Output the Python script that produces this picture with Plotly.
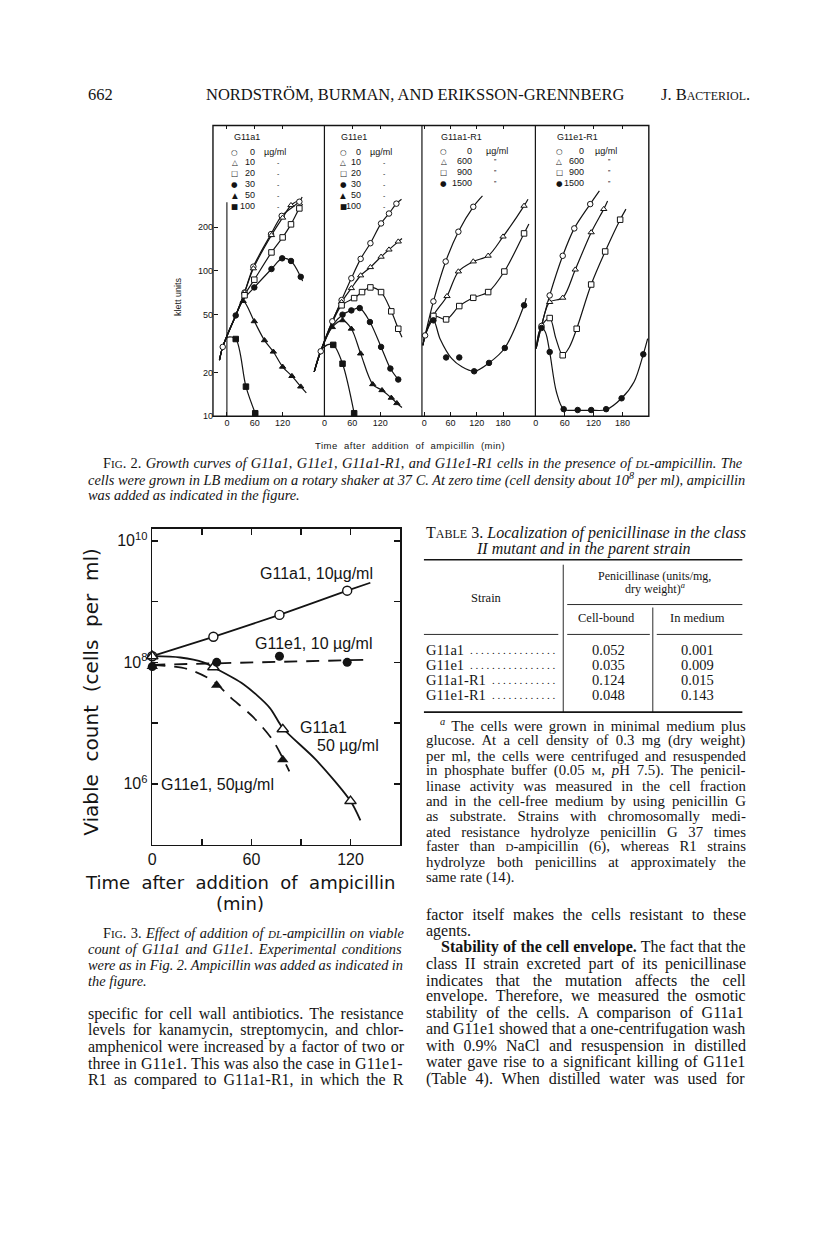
import re
import math
import plotly.graph_objects as go

# ============================ DATA ============================
# Fig. 2 -- Klett units vs. time after addition of ampicillin (min)
# Panel 1: G11a1 (µg/ml)
G11A1_DOSES = ["0", "10", "20", "30", "50", "100"]
G11A1_PT = [[-9, 38, 57, 95, 118, 156], [38, 57, 96, 120, 138], [38, 59, 96, 120, 138, 156],
            [19, 59, 96, 119, 138, 159], [35, 59, 81, 100, 120, 140, 159], [19, 41, 61]]
G11A1_PY = [[30, 71, 107, 179, 239, 299], [71, 104, 176, 232, 283], [68, 87, 134, 170, 209, 269],
            [49.4, 77, 103, 122, 117, 91], [62, 45, 33.3, 27.8, 21.9, 18.9, 16], [34, 16, 10.5]]
G11A1_CT = [[-16, -9, 19, 38, 57, 95, 118, 156, 162], [-16, -9, 19, 38, 57, 96, 120, 138, 158],
            [-16, -9, 19, 38, 59, 96, 120, 138, 156, 163], [-16, -9, 19, 35, 59, 96, 119, 138, 159, 163],
            [-16, -9, 19, 35, 59, 81, 100, 120, 140, 159, 171], [-16, -9, 2, 19, 41, 61]]
G11A1_CY = [[24.3, 30, 49.4, 71, 107, 179, 239, 299, 322], [24.3, 30, 49.4, 71, 104, 176, 232, 283, 310],
            [24.3, 30, 49.4, 68, 87, 134, 170, 209, 269, 288], [24.3, 30, 49.4, 63, 77, 103, 122, 117, 91, 85],
            [24.3, 30, 49.4, 62, 45, 33.3, 27.8, 21.9, 18.9, 16, 14.5], [24.3, 30, 35, 34, 16, 10.5]]

# Panel 2: G11e1 (µg/ml)
G11E1_DOSES = ["0", "10", "20", "30", "50", "100"]
G11E1_PT = [[-8, 17, 37, 58, 78, 99, 122, 139, 155], [37, 58, 78, 99, 122, 139, 159],
            [37, 64, 81, 99, 122, 144, 159], [39, 58, 76, 98, 122, 142, 159],
            [17, 39, 58, 78, 104, 124, 144, 156], [19, 39, 64]]
G11E1_PY = [[28, 45, 63, 89, 121, 155, 212, 248, 290], [61, 76, 93, 106, 125, 140, 159],
            [58, 65, 71.5, 77, 71.5, 52.7, 40], [50, 53.5, 55.5, 44.5, 30, 21.3, 17.9],
            [41, 45.7, 40, 27, 16.6, 15.1, 13.4, 12.3], [31, 23, 10.5]]
G11E1_CT = [[-22, -8, 17, 37, 58, 78, 99, 122, 139, 155, 166], [-22, -8, 17, 37, 58, 78, 99, 122, 139, 159, 167],
            [-22, -8, 17, 37, 64, 81, 99, 122, 144, 159, 167], [-22, -8, 17, 39, 58, 76, 98, 122, 142, 159],
            [-22, -8, 17, 39, 58, 78, 104, 124, 144, 156, 167], [-22, -8, 6, 19, 39, 64]]
G11E1_CY = [[20.2, 28, 45, 63, 89, 121, 155, 212, 248, 290, 311], [20.2, 28, 45, 61, 76, 93, 106, 125, 140, 159, 167],
            [20.2, 28, 44, 58, 65, 71.5, 77, 71.5, 52.7, 40, 35], [20.2, 28, 42, 50, 53.5, 55.5, 44.5, 30, 21.3, 17.9],
            [20.2, 28, 41, 45.7, 40, 27, 16.6, 15.1, 13.4, 12.3, 11.5], [20.2, 28, 31, 31, 23, 10.5]]

# Panel 3: G11a1-R1 (µg/ml)
G11A1R1_DOSES = ["0", "600", "900", "1500"]
G11A1R1_PT = [[2, 21, 49, 78, 112], [21, 52, 78, 112, 146, 180, 228],
              [21, 50, 80, 112, 146, 183, 228], [21, 50, 80, 114, 148, 184, 228]]
G11A1R1_PY = [[36, 61.7, 116, 186, 276], [49.4, 67, 99, 116, 127, 172, 280],
              [49, 46.4, 57.3, 65.3, 71.5, 99, 181], [45.7, 25.4, 25.4, 20.4, 23.3, 29.5, 58]]
G11A1R1_CT = [[-3, 2, 21, 49, 78, 112, 133], [-3, 2, 21, 52, 78, 112, 146, 180, 228, 237],
              [-3, 2, 21, 50, 80, 112, 146, 183, 228, 239], [-3, 2, 21, 36, 63, 86, 114, 148, 184, 228, 233]]
G11A1R1_CY = [[30.8, 36, 61.7, 116, 186, 276, 328], [30.8, 36, 49.4, 67, 99, 116, 127, 172, 280, 311],
              [30.8, 36, 49, 46.4, 57.3, 65.3, 71.5, 99, 181, 210], [30.8, 36, 45.7, 34.2, 24.9, 21.9, 20.4, 23.3, 29.5, 58, 65]]

# Panel 4: G11e1-R1 (µg/ml)
G11E1R1_DOSES = ["0", "600", "900", "1500"]
G11E1R1_PT = [[12, 29, 56, 80, 113], [29, 56, 82, 115, 141],
              [29, 56, 85, 115, 144, 175], [12, 29, 58, 87, 115, 146, 178, 223]]
G11E1R1_PY = [[41.8, 67.8, 127, 196, 288], [61, 65.3, 102, 184, 266],
              [47.4, 26.3, 40, 80.6, 136, 225], [40.5, 27.7, 11.2, 11.05, 11.05, 11.2, 13.3, 26.7]]
G11E1R1_CT = [[1, 12, 29, 56, 80, 113, 132], [1, 12, 29, 56, 82, 115, 141, 149],
              [1, 12, 29, 42, 56, 70, 85, 115, 144, 175, 187],
              [1, 7, 12, 20, 29, 43, 58, 87, 115, 146, 178, 204, 223, 232]]
G11E1R1_CY = [[29.3, 41.8, 67.8, 127, 196, 288, 355], [29.3, 41.8, 61, 65.3, 102, 184, 266, 303],
              [29.3, 41.8, 47.4, 34.2, 26.3, 30, 40, 80.6, 136, 225, 266],
              [29.3, 38, 40.5, 38, 27.7, 14.7, 11.2, 11.0, 11.0, 11.1, 13.3, 17.3, 26.7, 34.2]]

FIG2_YTICKS = [10, 20, 50, 100, 200]
FIG2_XTICKS_SHORT = [0, 60, 120]
FIG2_XTICKS_LONG = [0, 60, 120, 180]

# Fig. 3 -- viable count (cells per ml) vs time (min)
A10_T = [0, 37, 77, 118]                 # G11a1, 10 µg/ml (markers)
A10_V = [1.26e8, 2.63e8, 6.03e8, 1.51e9]
A10_CT = [0, 37, 77, 118, 132]
A10_CV = [1.26e8, 2.63e8, 6.03e8, 1.51e9, 2.04e9]
E10_T = [0, 39, 77, 118]                 # G11e1, 10 µg/ml
E10_V = [8.5e7, 1.0e8, 1.26e8, 1.0e8]
E10_CT = [0, 131]
E10_CV = [9.1e7, 1.1e8]
A50_T = [0, 37, 79, 120]                 # G11a1, 50 µg/ml
A50_V = [1.26e8, 8.3e7, 7.9e6, 5.2e5]
A50_CT = [0, 17, 31, 37, 55, 71, 79, 99, 120, 126]
A50_CV = [1.26e8, 1.2e8, 1.0e8, 8.3e7, 4.4e7, 1.8e7, 8.3e6, 2.5e6, 5.2e5, 2.5e5]
E50_T = [0, 39, 79]                      # G11e1, 50 µg/ml
E50_V = [8.5e7, 4.2e7, 2.5e6]
E50_CT = [0, 21, 37, 47, 61, 73, 83]
E50_CV = [9.1e7, 7.8e7, 4.9e7, 2.7e7, 1.26e7, 5.2e6, 1.6e6]
FIG3_MAJOR_Y = [1e6, 1e8, 1e10]
FIG3_MINOR_Y = [1e7, 1e9]
FIG3_MAJOR_X = [0, 60, 120]
FIG3_MINOR_X = [30, 90]

# Table 3
STRAINS = ["G11a1", "G11e1", "G11a1-R1", "G11e1-R1"]
CELL_BOUND = [0.052, 0.035, 0.124, 0.048]
IN_MEDIUM = [0.001, 0.009, 0.015, 0.143]

# ============================ LAYOUT HELPERS ============================
W, H = 816, 1237
SERIF = "Liberation Serif"
SANS = "Liberation Sans"
DJ = "DejaVu Sans"
INK = "#141414"


def _tbl(groups):
    d = {}
    for chars, w in groups:
        for c in chars:
            d[c] = w
    return d


# Times (Liberation Serif) advance widths, 1/1000 em
TR = _tbl([(" ,.", 250), ("ijlt:;/", 278), ("fr-()I[]'’", 333), ("sJ", 389), ("acez?", 444),
           ("bdghknopquvxy0123456789*_µ", 500), ("FPS", 556), ("+=<>", 564), ("ELTZ", 611),
           ("BCR", 667), ("ADGHKNOQUVXYwÖ", 722), ("m&", 778), ("%", 833), ("M", 889), ("W", 944), ('"', 408)])
TI = _tbl([(" ,.", 250), ("fijlt:;/", 278), ("-()I'’", 333), ("rsz", 389), ("cekvxyJ", 444),
           ("abdghnopqu0123456789S", 500), ("LTYZ", 556), ("ABEFPRVX", 611), ("CKNw", 667),
           ("mDGHOQU", 722), ("MW", 833)])
TB = _tbl([(" ,.", 250), ("ijl:", 278), ("ft-()rI", 333), ("sJ", 389), ("cez", 444),
           ("agvxyo0123456789", 500), ("bdhnpqukS", 556), ("F", 611), ("BELTZ", 667),
           ("ACDRHNU", 722), ("m", 833)])


def measure(html, base):
    size_stack = []
    ital = bold = False
    sup = 0
    width = 0.0
    spaces = 0
    for tok in re.split(r"(<[^>]+>)", html):
        if not tok:
            continue
        if tok.startswith("<"):
            t = tok.lower()
            if t == "<i>":
                ital = True
            elif t == "</i>":
                ital = False
            elif t == "<b>":
                bold = True
            elif t == "</b>":
                bold = False
            elif t.startswith("<span"):
                m = re.search(r"font-size:([\d.]+)px", t)
                size_stack.append(float(m.group(1)) if m else (size_stack[-1] if size_stack else base))
            elif t == "</span>":
                size_stack.pop()
            elif t == "<sup>":
                sup += 1
            elif t == "</sup>":
                sup -= 1
            continue
        size = size_stack[-1] if size_stack else base
        if sup:
            size *= 0.7
        table = TB if bold else (TI if ital else TR)
        for ch in tok:
            width += table.get(ch, 500) / 1000.0 * size
            if ch == " ":
                spaces += 1
    return width, spaces


def fx(p):
    return p / W


def fy(p):
    return 1 - p / H


def sc(s, size):
    return "<span style='font-size:%spx'>%s</span>" % (size, s)


def ls(s, sp):
    return "<span style='letter-spacing:%spx'>%s</span>" % (sp, s)


ann = []
shapes = []


def txt(x, y, s, size=14, family=SERIF, anchor="left", angle=0):
    ann.append(dict(x=fx(x), y=fy(y), xref="paper", yref="paper", text=s, showarrow=False,
                    xanchor=anchor, yanchor="middle", textangle=angle,
                    font=dict(size=size, family=family, color=INK)))


def just(x0, x1, y, s, size):
    w, n = measure(s, size)
    if n:
        ws = (x1 - x0 - w) / n
        s = "<span style='word-spacing:%.2fpx'>%s</span>" % (ws, s)
    txt(x0, y, s, size)


def hline(x0, x1, y, w=1.0):
    shapes.append(dict(type="line", xref="paper", yref="paper", x0=fx(x0), x1=fx(x1), y0=fy(y), y1=fy(y),
                       line=dict(color=INK, width=w)))


def vline(x, y0, y1, w=1.0):
    shapes.append(dict(type="line", xref="paper", yref="paper", x0=fx(x), x1=fx(x), y0=fy(y0), y1=fy(y1),
                       line=dict(color=INK, width=w)))


fig = go.Figure()

# ============================ FIG. 2 ============================
F2_TOP, F2_BOT, F2_L, F2_R = 126, 418, 210, 648
DECADE = 146.0
STY6 = [("circle", "white"), ("triangle-up", "white"), ("square", "white"),
        ("circle", INK), ("triangle-up", INK), ("square", INK)]
PANELS = [
    dict(ax="x", dom=(210, 322), x0=224.0, ppm=0.4667, ticks=FIG2_XTICKS_SHORT,
         data=(G11A1_PT, G11A1_PY, G11A1_CT, G11A1_CY), sty=STY6),
    dict(ax="x2", dom=(305, 420), x0=322.0, ppm=0.4667, ticks=FIG2_XTICKS_SHORT,
         data=(G11E1_PT, G11E1_PY, G11E1_CT, G11E1_CY), sty=STY6),
    dict(ax="x3", dom=(420, 534), x0=422.3, ppm=0.44, ticks=FIG2_XTICKS_LONG,
         data=(G11A1R1_PT, G11A1R1_PY, G11A1R1_CT, G11A1R1_CY), sty=STY6[:4]),
    dict(ax="x4", dom=(534, 648), x0=534.3, ppm=0.485, ticks=FIG2_XTICKS_LONG,
         data=(G11E1R1_PT, G11E1R1_PY, G11E1R1_CT, G11E1R1_CY), sty=STY6[:4]),
]

layout_axes = {}
for i, p in enumerate(PANELS):
    pt, pyv, ct, cy = p["data"]
    for k in range(len(pt)):
        fig.add_trace(go.Scatter(x=ct[k], y=cy[k], xaxis=p["ax"], yaxis="y", mode="lines",
                                 line=dict(color=INK, width=1.2, shape="spline", smoothing=0.9),
                                 hoverinfo="skip", showlegend=False))
    for k in range(len(pt)):
        sym, col = p["sty"][k]
        fig.add_trace(go.Scatter(x=pt[k], y=pyv[k], xaxis=p["ax"], yaxis="y", mode="markers",
                                 marker=dict(symbol=sym, size=5.5, color=col, line=dict(color=INK, width=1)),
                                 showlegend=False, cliponaxis=False))
    d0, d1 = p["dom"]
    rng = [(d0 - p["x0"]) / p["ppm"], (d1 - p["x0"]) / p["ppm"]]
    name = "xaxis" if i == 0 else "xaxis%d" % (i + 1)
    layout_axes[name] = dict(domain=[fx(d0), fx(d1)], range=rng, anchor="y", showgrid=False, zeroline=False,
                             showline=False, ticks="inside", ticklen=4, tickwidth=1, tickcolor=INK,
                             mirror="ticks", tickvals=p["ticks"],
                             tickfont=dict(size=9, family=SANS, color=INK))

layout_axes["yaxis"] = dict(type="log", domain=[fy(F2_BOT), fy(F2_TOP)],
                            range=[1, 1 + (F2_BOT - F2_TOP) / DECADE], anchor="free", position=fx(F2_L),
                            showgrid=False, zeroline=False, showline=False, ticks="inside", ticklen=4,
                            tickcolor=INK, tickvals=FIG2_YTICKS, ticktext=[str(v) for v in FIG2_YTICKS],
                            tickfont=dict(size=9, family=SANS, color=INK))
layout_axes["yaxis2"] = dict(type="log", domain=[fy(F2_BOT), fy(F2_TOP)],
                             range=[1, 1 + (F2_BOT - F2_TOP) / DECADE], overlaying="y", side="right",
                             anchor="free", position=fx(F2_R), showgrid=False, zeroline=False,
                             showline=False, ticks="inside", ticklen=4, tickcolor=INK,
                             tickvals=FIG2_YTICKS, showticklabels=False)

# box and dividers
shapes.append(dict(type="rect", xref="paper", yref="paper", x0=fx(F2_L), x1=fx(F2_R), y0=fy(F2_BOT),
                   y1=fy(F2_TOP), line=dict(color=INK, width=1.4)))
for xd in (322, 420, 534):
    vline(xd, F2_TOP, F2_BOT, 1.2)
# time-zero line in panel 1
shapes.append(dict(type="line", xref="x", yref="paper", x0=0, x1=0, y0=fy(F2_BOT), y1=fy(203),
                   line=dict(color=INK, width=1.1)))

# Legends in the panels
GLYPH6 = ["○", "△", "□", "●", "▲", "■"]
LEG = [
    ("G11a1", 229, 232, 254, 259, 276, "-", G11A1_DOSES, [153, 163, 174, 185, 196, 207]),
    ("G11e1", 337, 341, 361, 366, 382, "-", G11E1_DOSES, [153, 163, 174, 185, 196, 207]),
    ("G11a1-R1", 437, 442, 472, 482, 494, "\u201d", G11A1R1_DOSES, [152, 162, 173, 184]),
    ("G11e1-R1", 554, 558, 585, 592, 608, "\u201d", G11E1R1_DOSES, [152, 162, 173, 184]),
]
for title, xt, xg, xn, xu, xd, ditto, doses, rows in LEG:
    txt(xt, 138, title, 9, SANS)
    for k, d in enumerate(doses):
        txt(xg, rows[k], GLYPH6[k], 7.5, DJ, "center")
        txt(xn, rows[k], d, 9, SANS, "right")
        if k == 0:
            txt(xu, rows[k], "µg/ml", 9, SANS)
        else:
            txt(xd, rows[k], ditto, 7, SANS, "center")

txt(175, 298, "klett units", 9, SANS, "center", -90)
txt(408, 447, ls("Time  after  addition  of  ampicillin  (min)", 0.5), 9.5, SANS, "center")

# ============================ FIG. 3 ============================
F3_TOP, F3_BOT, F3_L, F3_R = 531, 848, 149, 398
F3_DEC = 61.0
fig.add_trace(go.Scatter(x=A10_CT, y=A10_CV, xaxis="x5", yaxis="y3", mode="lines",
                         line=dict(color=INK, width=1.8, shape="spline", smoothing=0.6), showlegend=False))
fig.add_trace(go.Scatter(x=A50_CT, y=A50_CV, xaxis="x5", yaxis="y3", mode="lines",
                         line=dict(color=INK, width=1.8, shape="spline", smoothing=0.8), showlegend=False))
fig.add_trace(go.Scatter(x=E10_CT, y=E10_CV, xaxis="x5", yaxis="y3", mode="lines",
                         line=dict(color=INK, width=1.8, dash="13px,9px"), showlegend=False))
fig.add_trace(go.Scatter(x=E50_CT, y=E50_CV, xaxis="x5", yaxis="y3", mode="lines",
                         line=dict(color=INK, width=1.8, dash="13px,9px", shape="spline", smoothing=0.8),
                         showlegend=False))
fig.add_trace(go.Scatter(x=A10_T, y=A10_V, xaxis="x5", yaxis="y3", mode="markers", cliponaxis=False,
                         marker=dict(symbol="circle", size=9, color="white", line=dict(color=INK, width=1.4)),
                         showlegend=False))
fig.add_trace(go.Scatter(x=A50_T, y=A50_V, xaxis="x5", yaxis="y3", mode="markers", cliponaxis=False,
                         marker=dict(symbol="triangle-up", size=10, color="white", line=dict(color=INK, width=1.4)),
                         showlegend=False))
fig.add_trace(go.Scatter(x=E10_T, y=E10_V, xaxis="x5", yaxis="y3", mode="markers", cliponaxis=False,
                         marker=dict(symbol="circle", size=9, color=INK), showlegend=False))
fig.add_trace(go.Scatter(x=E50_T, y=E50_V, xaxis="x5", yaxis="y3", mode="markers", cliponaxis=False,
                         marker=dict(symbol="triangle-up", size=10, color=INK), showlegend=False))

layout_axes["xaxis5"] = dict(domain=[fx(F3_L), fx(F3_R)], range=[0, 150], anchor="y3", showgrid=False,
                             zeroline=False, showline=True, linecolor=INK, linewidth=1.6, mirror="ticks",
                             ticks="inside", ticklen=6, tickwidth=1.4, tickcolor=INK,
                             tickvals=FIG3_MAJOR_X, ticktext=[str(v) for v in FIG3_MAJOR_X],
                             minor=dict(tickmode="array", tickvals=FIG3_MINOR_X, ticks="inside", ticklen=6,
                                        tickwidth=1.4, tickcolor=INK, showgrid=False),
                             tickfont=dict(size=16, family=SANS, color=INK))
layout_axes["yaxis3"] = dict(type="log", domain=[fy(F3_BOT), fy(F3_TOP)],
                             range=[5, 5 + (F3_BOT - F3_TOP) / F3_DEC], anchor="x5", showgrid=False,
                             zeroline=False, showline=True, linecolor=INK, linewidth=1.6, mirror="ticks",
                             ticks="inside", ticklen=6, tickwidth=1.4, tickcolor=INK,
                             tickvals=FIG3_MAJOR_Y,
                             ticktext=["10<sup>%d</sup>" % round(math.log10(v)) for v in FIG3_MAJOR_Y],
                             minor=dict(tickmode="array", tickvals=FIG3_MINOR_Y, ticks="inside", ticklen=6,
                                        tickwidth=1.4, tickcolor=INK, showgrid=False),
                             tickfont=dict(size=16, family=SANS, color=INK))

txt(255, 576, "G11a1, 10µg/ml", 16, SANS)
txt(250, 646, "G11e1, 10 µg/ml", 16, SANS)
txt(295, 730, "G11a1", 16, SANS)
txt(313, 749, "50 µg/ml", 16, SANS)
txt(156, 788, "G11e1, 50µg/ml", 16, SANS)
txt(88, 695, "Viable  count  (cells  per  ml)", 20, DJ, "center", -90)
txt(237, 886, "Time  after  addition  of  ampicillin", 18, DJ, "center")
txt(237, 907, "(min)", 18, DJ, "center")

# ============================ PAGE TEXT ============================
LCOL = (82, 398)
RCOL = (422, 742)
txt(82, 95, "662", 16.5)
txt(414, 95, "NORDSTRÖM, BURMAN, AND ERIKSSON-GRENNBERG", 16.5, SERIF, "center")
txt(752, 95, "J. B" + sc("ACTERIOL", 12) + ".", 16.5, SERIF, "right")

CAP = 14.4
just(97, RCOL[1], 465, "F" + sc("IG", 11) + ". 2. <i>Growth curves of G11a1, G11e1, G11a1-R1, and G11e1-R1 cells in the presence of </i>"
     + sc("<i>DL</i>", 11) + "<i>-ampicillin. The</i>", CAP)
just(82, RCOL[1], 481, "<i>cells were grown in LB medium on a rotary shaker at 37 C. At zero time (cell density about 10<sup>8</sup> per ml), ampicillin</i>", CAP)
txt(82, 497, "<i>was added as indicated in the figure.</i>", CAP)

just(97, LCOL[1], 937, "F" + sc("IG", 11) + ". 3. <i>Effect of addition of </i>" + sc("<i>DL</i>", 11)
     + "<i>-ampicillin on viable</i>", CAP)
just(82, LCOL[1], 953, "<i>count of G11a1 and G11e1. Experimental conditions</i>", CAP)
just(82, LCOL[1], 969, "<i>were as in Fig. 2. Ampicillin was added as indicated in</i>", CAP)
txt(82, 985, "<i>the figure.</i>", CAP)

BODY = 16
LEFT_BODY = ["specific for cell wall antibiotics. The resistance",
             "levels for kanamycin, streptomycin, and chlor-",
             "amphenicol were increased by a factor of two or",
             "three in G11e1. This was also the case in G11e1-",
             "R1 as compared to G11a1-R1, in which the R"]
for i, s in enumerate(LEFT_BODY):
    just(LCOL[0], LCOL[1], 1018 + 16.5 * i, s, BODY)

# Table 3
just(422, 742, 535, "T" + sc("ABLE", 12) + " 3. <i>Localization of penicillinase in the class</i>", 16)
txt(582, 551, "<i>II mutant and in the parent strain</i>", 16, SERIF, "center")
hline(422, 742, 562, 1.6)
txt(654, 578, "Penicillinase (units/mg,", 12, SERIF, "center")
txt(654, 591, "dry weight)<sup><i>a</i></sup>", 12, SERIF, "center")
txt(485, 600, "Strain", 12.5, SERIF, "center")
hline(566, 742, 607, 0.9)
txt(605, 621, "Cell-bound", 12.5, SERIF, "center")
txt(697, 621, "In medium", 12.5, SERIF, "center")
hline(422, 557, 637, 0.9)
hline(566, 649, 637, 0.9)
hline(656, 742, 637, 0.9)
vline(562, 567, 715, 0.9)
vline(652, 610, 715, 0.9)
ROW_FONT = 14.5
for i, s in enumerate(STRAINS):
    yy = 653 + 15 * i
    txt(422, yy, s, ROW_FONT)
    name_end = 422 + measure(s, ROW_FONT)[0]
    ndots = int((556 - name_end - 3) / 5.5)
    txt(557, yy, " ".join(["."] * ndots), 11, SERIF, "right")
    txt(607, yy, "%.3f" % CELL_BOUND[i], ROW_FONT, SERIF, "center")
    txt(697, yy, "%.3f" % IN_MEDIUM[i], ROW_FONT, SERIF, "center")
hline(422, 742, 715, 1.6)

FOOT = ["<sup><i>a</i></sup> The cells were grown in minimal medium plus",
        "glucose. At a cell density of 0.3 mg (dry weight)",
        "per ml, the cells were centrifuged and resuspended",
        "in phosphate buffer (0.05 " + sc("M", 11) + ", <i>p</i>H 7.5). The penicil-",
        "linase activity was measured in the cell fraction",
        "and in the cell-free medium by using penicillin G",
        "as substrate. Strains with chromosomally medi-",
        "ated resistance hydrolyze penicillin G 37 times",
        "faster than " + sc("D", 11) + "-ampicillin (6), whereas R1 strains",
        "hydrolyze both penicillins at approximately the",
        "same rate (14)."]
FOOT_FONT = 14.8
for i, s in enumerate(FOOT):
    yy = 728 + 15.3 * i
    if i == len(FOOT) - 1:
        txt(RCOL[0], yy, s, FOOT_FONT)
    else:
        just(436 if i == 0 else RCOL[0], RCOL[1], yy, s, FOOT_FONT)

RIGHT_BODY = ["factor itself makes the cells resistant to these",
              "agents.",
              "<b>Stability of the cell envelope.</b> The fact that the",
              "class II strain excreted part of its penicillinase",
              "indicates that the mutation affects the cell",
              "envelope. Therefore, we measured the osmotic",
              "stability of the cells. A comparison of G11a1",
              "and G11e1 showed that a one-centrifugation wash",
              "with 0.9% NaCl and resuspension in distilled",
              "water gave rise to a significant killing of G11e1",
              "(Table 4). When distilled water was used for"]
for i, s in enumerate(RIGHT_BODY):
    yy = 918 + 16.5 * i
    if i == 1:
        txt(RCOL[0], yy, s, BODY)
    else:
        just(437 if i == 2 else RCOL[0], RCOL[1], yy, s, BODY)

fig.update_layout(width=W, height=H, margin=dict(l=0, r=0, t=0, b=0), paper_bgcolor="white",
                  plot_bgcolor="rgba(0,0,0,0)", showlegend=False, annotations=ann, shapes=shapes,
                  **layout_axes)
fig.write_html("out.html", config={"displayModeBar": False, "staticPlot": True},
               post_script="document.body.style.margin='0';document.body.style.padding='0';"
                           "document.body.style.overflow='hidden';")
